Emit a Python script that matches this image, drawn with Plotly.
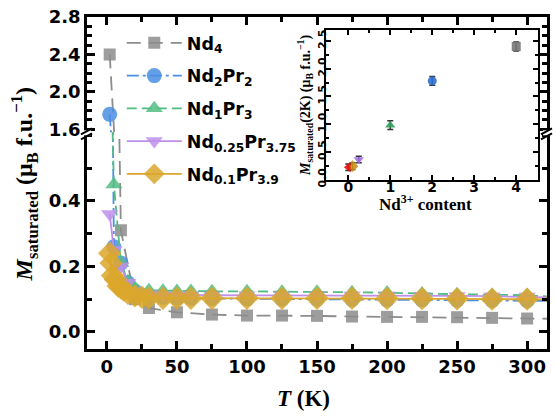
import plotly.graph_objects as go

# ---------------- data ----------------
T_nd4 = [2, 10, 20, 30, 50, 75, 100, 125, 150, 175, 200, 225, 250, 275, 300, 320]
M_nd4 = [2.40, 0.31, 0.10, 0.073, 0.060, 0.053, 0.050, 0.050, 0.049, 0.047, 0.046, 0.046, 0.045, 0.043, 0.041, 0.040]

T_std = [2, 5, 10, 15, 20, 30, 40, 50, 60, 75, 100, 125, 150, 175, 200, 225, 250, 275, 300, 320]
M_nd2pr2 = [1.76, 0.26, 0.21, 0.15, 0.125, 0.110, 0.105, 0.103, 0.103, 0.102, 0.101, 0.100, 0.100, 0.099,
            0.098, 0.098, 0.097, 0.096, 0.095, 0.095]
M_nd1pr3 = [0.98, 0.45, 0.21, 0.155, 0.135, 0.127, 0.126, 0.125, 0.125, 0.124, 0.124, 0.123, 0.123, 0.121,
            0.120, 0.117, 0.115, 0.113, 0.112, 0.107]
M_nd025 = [0.36, 0.25, 0.20, 0.15, 0.125, 0.115, 0.113, 0.112, 0.112, 0.112, 0.112, 0.112, 0.112, 0.111,
           0.111, 0.110, 0.110, 0.109, 0.108, 0.105]

T_nd01 = [2, 3, 4, 6, 8, 10, 12, 15, 20, 25, 30, 40, 50, 60, 75, 100, 125, 150, 175, 200, 225, 250, 275, 300, 320]
M_nd01 = [0.24, 0.21, 0.172, 0.16, 0.14, 0.135, 0.128, 0.118, 0.110, 0.106, 0.104, 0.103, 0.103, 0.103, 0.103,
          0.103, 0.103, 0.103, 0.103, 0.102, 0.102, 0.101, 0.100, 0.100, 0.099]

names = ["Nd<sub>4</sub>", "Nd<sub>2</sub>Pr<sub>2</sub>", "Nd<sub>1</sub>Pr<sub>3</sub>",
         "Nd<sub>0.25</sub>Pr<sub>3.75</sub>", "Nd<sub>0.1</sub>Pr<sub>3.9</sub>"]

# inset: saturated moment at 2 K vs Nd content
nd_content = [4, 2, 1, 0.25, 0.1, 0]
m_2k = [2.40, 1.78, 0.98, 0.36, 0.24, 0.22]
m_2k_err = [0.08, 0.08, 0.08, 0.06, 0.06, 0.06]

x_ticks = [0, 50, 100, 150, 200, 250, 300]
y_low_ticks = [0.0, 0.2, 0.4]
y_up_ticks = [1.6, 2.0, 2.4, 2.8]

# ---------------- styles ----------------
colors = ["#8c8c8c", "#4a8fe3", "#52bd82", "#bf8fea", "#dba72c"]
symbols = ["square", "circle", "triangle-up", "triangle-down", "diamond"]
msizes = [12, 15, 15, 15, 18]
dashes = ["14px,8px", "12px,4px,3px,4px", "10px,5px", "solid", "solid"]
inset_colors = ["#777777", "#2f6fcf", "#2f9e5a", "#a070e0", "#c8901a", "#ee1111"]
inset_symbols = ["square", "circle", "triangle-up", "triangle-down", "diamond", "triangle-left"]

series = [(T_nd4, M_nd4), (T_std, M_nd2pr2), (T_std, M_nd1pr3), (T_std, M_nd025), (T_nd01, M_nd01)]

fig = go.Figure()
for i, (tt, mm) in enumerate(series):
    common = dict(x=tt, y=mm, mode="lines+markers", name=names[i],
                  line=dict(color=colors[i], width=1.8, dash=dashes[i]),
                  marker=dict(symbol=symbols[i], size=msizes[i], color=colors[i], opacity=0.85,
                              line=dict(width=0)))
    fig.add_trace(go.Scatter(**common, xaxis="x", yaxis="y", legendgroup=f"g{i}", showlegend=True))
    fig.add_trace(go.Scatter(**common, xaxis="x2", yaxis="y2", legendgroup=f"g{i}", showlegend=False))

for j in range(len(nd_content)):
    fig.add_trace(go.Scatter(
        x=[nd_content[j]], y=[m_2k[j]], mode="markers", showlegend=False,
        xaxis="x3", yaxis="y3",
        marker=dict(symbol=inset_symbols[j], size=9, color=inset_colors[j], opacity=0.9),
        error_y=dict(type="data", array=[m_2k_err[j]], color="#333333", thickness=1.5, width=3)))

L, R, T, B = 87, 6, 15, 69
W, H = 556, 418
plot_w = W - L - R
plot_h = H - T - B
d = (349 - 131) / plot_h

tickfont = dict(family="DejaVu Sans", size=18, color="black", weight="bold")
axis_common = dict(showline=True, linecolor="black", linewidth=2.5, ticks="inside",
                   tickcolor="black", tickwidth=2.5, ticklen=8, showgrid=False, zeroline=False)

ix0 = (328 - L) / plot_w
ix1 = (541 - L) / plot_w
iy0 = (349 - 179) / plot_h
iy1 = (349 - 28) / plot_h

brk_shapes = []
for xa in [0, 1]:
    brk_shapes.append(dict(type="rect", xref="paper", yref="paper", xsizemode="pixel", ysizemode="pixel",
                           xanchor=xa, yanchor=d, x0=-4, x1=4, y0=-3, y1=2,
                           fillcolor="white", line=dict(width=0), layer="above"))
    for off in [-4, 1]:
        brk_shapes.append(dict(type="line", xref="paper", yref="paper", xsizemode="pixel", ysizemode="pixel",
                               xanchor=xa, yanchor=d, x0=-6, x1=5, y0=off - 3, y1=off + 3,
                               line=dict(color="black", width=2), layer="above"))

fig.update_layout(
    width=W, height=H, margin=dict(l=L, r=R, t=T, b=B),
    paper_bgcolor="white", plot_bgcolor="white",
    xaxis=dict(**axis_common, domain=[0, 1], anchor="y", range=[-14.2, 314.2], tickvals=x_ticks,
               tickfont=tickfont, minor=dict(dtick=25, tick0=0, ticks="inside", ticklen=5, tickwidth=2.5,
                                             tickcolor="black")),
    xaxis2=dict(**axis_common, domain=[0, 1], anchor="y2", side="top", matches="x", range=[-14.2, 314.2],
                tickvals=x_ticks, showticklabels=False,
                minor=dict(dtick=25, tick0=0, ticks="inside", ticklen=5, tickwidth=2.5, tickcolor="black")),
    yaxis=dict(**axis_common, domain=[0, d], anchor="x", range=[-0.052, 0.609], tickvals=y_low_ticks,
               tickformat=".1f", tickfont=tickfont, mirror="ticks",
               minor=dict(dtick=0.1, tick0=0, ticks="inside", ticklen=5, tickwidth=2.5, tickcolor="black")),
    yaxis2=dict(**axis_common, domain=[d, 1], anchor="x2", range=[1.568, 2.8], tickvals=y_up_ticks,
                tickformat=".1f", tickfont=tickfont, mirror="ticks",
                minor=dict(dtick=0.1, tick0=0, ticks="inside", ticklen=5, tickwidth=2.5, tickcolor="black")),
    xaxis3=dict(domain=[ix0, ix1], anchor="y3", range=[-0.52, 4.52], showline=True, linecolor="black",
                linewidth=1.5, mirror="ticks", ticks="inside", tickcolor="black", ticklen=5, tickwidth=1.5,
                showgrid=False, zeroline=False, tickvals=[0, 1, 2, 3, 4], ticklabelstandoff=-7,
                tickfont=dict(family="DejaVu Sans", size=14, color="black", weight="bold"),
                minor=dict(dtick=0.5, tick0=0, ticks="inside", ticklen=3, tickwidth=1.5, tickcolor="black")),
    yaxis3=dict(domain=[iy0, iy1], anchor="x3", range=[-0.01, 2.7], showline=True, linecolor="black",
                linewidth=1.5, mirror="ticks", ticks="inside", tickcolor="black", ticklen=5, tickwidth=1.5,
                showgrid=False, zeroline=False, dtick=0.5, tick0=0, tickformat=".1f", tickangle=-90,
                ticklabelstandoff=-6,
                tickfont=dict(family="DejaVu Sans", size=11, color="black", weight="bold"),
                minor=dict(dtick=0.25, tick0=0, ticks="inside", ticklen=3, tickwidth=1.5, tickcolor="black")),
    legend=dict(x=(122 - L) / plot_w, y=(349 - 23) / plot_h, xanchor="left", yanchor="top",
                bgcolor="rgba(0,0,0,0)", font=dict(family="DejaVu Sans", size=17.5, color="black", weight="bold"),
                itemwidth=55, tracegroupgap=7),
    shapes=brk_shapes,
    annotations=[
        dict(text="<b><i>T</i> (K)</b>", xref="paper", yref="paper", x=(305 - L) / plot_w,
             y=(349 - 399) / plot_h, xanchor="center", yanchor="middle", showarrow=False,
             font=dict(family="Liberation Serif", size=23, color="black")),
        dict(text="<b><i>M</i><sub>saturated</sub> (μ<sub>B</sub> f.u.<sup>−1</sup>)</b>", xref="paper",
             yref="paper", x=(24 - L) / plot_w, y=(349 - 183) / plot_h, xanchor="center",
             yanchor="middle", textangle=-90, showarrow=False,
             font=dict(family="Liberation Serif", size=24, color="black")),
        dict(text="<b>Nd<sup>3+</sup> content</b>", xref="paper", yref="paper", x=(428 - L) / plot_w,
             y=(349 - 202) / plot_h, xanchor="center", yanchor="middle", showarrow=False,
             font=dict(family="Liberation Serif", size=17, color="black")),
        dict(text="<b><i>M</i><sub>saturated</sub>(2K) (μ<sub>B</sub> f.u.<sup>−1</sup>)</b>", xref="paper",
             yref="paper", x=(307 - L) / plot_w, y=(349 - 104) / plot_h, xanchor="center",
             yanchor="middle", textangle=-90, showarrow=False,
             font=dict(family="Liberation Serif", size=14, color="black")),
    ],
)

fig.write_html("out.html")
